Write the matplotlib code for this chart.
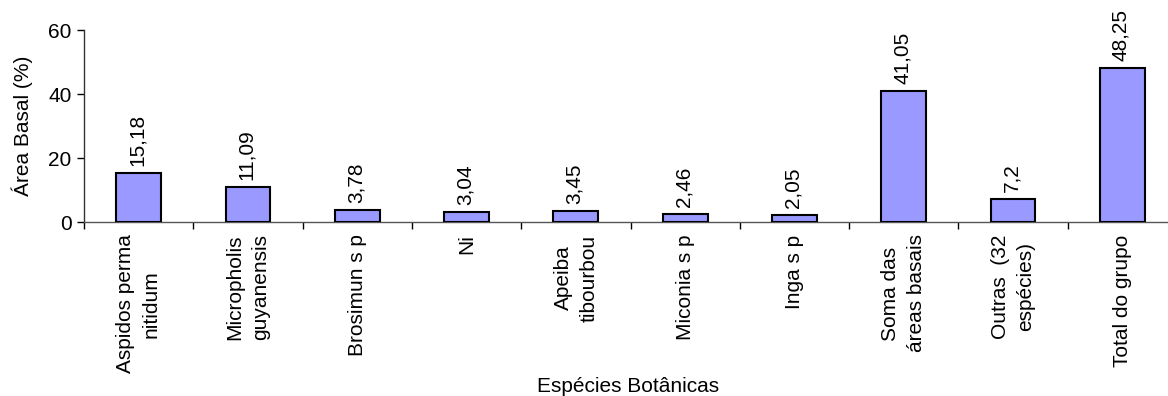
import matplotlib
matplotlib.use("Agg")
import matplotlib.pyplot as plt
import numpy as np

categories = ["Aspidos perma\nnitidum", "Micropholis\nguyanensis", "Brosimun s p", "Ni",
              "Apeiba\ntibourbou", "Miconia s p", "Inga s p", "Soma das\náreas basais",
              "Outras  (32\nespécies)", "Total do grupo"]
values = [15.18, 11.09, 3.78, 3.04, 3.45, 2.46, 2.05, 41.05, 7.2, 48.25]
value_labels = ["15,18", "11,09", "3,78", "3,04", "3,45", "2,46", "2,05", "41,05", "7,2", "48,25"]
yticks = [0, 20, 40, 60]

plt.rcParams['font.family'] = ['Liberation Sans', 'DejaVu Sans']
FS = 15
W, H = 1168, 396
fig = plt.figure(figsize=(W/100, H/100), dpi=100)
ax = fig.add_axes([84/W, 174/H, 1093/W, 192/H])

x = np.arange(len(values))
ax.bar(x, values, width=0.41, color="#9999FF", edgecolor="black", linewidth=1.5, zorder=3)
for xi, v, lab in zip(x, values, value_labels):
    ax.annotate(lab, (xi, v), xytext=(-1, 5), textcoords="offset points",
                rotation=90, ha="center", va="bottom", fontsize=FS)

ax.set_xlim(-0.5, len(values) - 0.5)
ax.set_ylim(0, 60)
ax.set_yticks(yticks)
ax.set_yticklabels([str(t) for t in yticks], fontsize=FS)
ax.set_xticks(x)
ax.set_xticklabels(categories, rotation=90, fontsize=FS, va="top", ha="center",
                   multialignment="center", linespacing=1.45)
ax.set_xticks(np.arange(len(values) + 1) - 0.5, minor=True)
ax.tick_params(axis="x", which="major", length=0, pad=9)
ax.tick_params(axis="x", which="minor", length=5, width=1, direction="out")
ax.tick_params(axis="y", length=5, width=1, direction="out", pad=4)
for s in ["top", "right"]:
    ax.spines[s].set_visible(False)
ax.spines["left"].set_linewidth(1)
ax.spines["bottom"].set_linewidth(1)
ax.spines["bottom"].set_color("#555555")
ax.spines["left"].set_color("#333333")
ax.set_ylabel("Área Basal (%)", fontsize=FS)
ax.yaxis.set_label_coords((33 - 84) / 1093, 0.5)
fig.text(628/W, 1 - 386/H, "Espécies Botânicas", ha="center", va="center", fontsize=FS)

fig.savefig("out.png", dpi=100)
